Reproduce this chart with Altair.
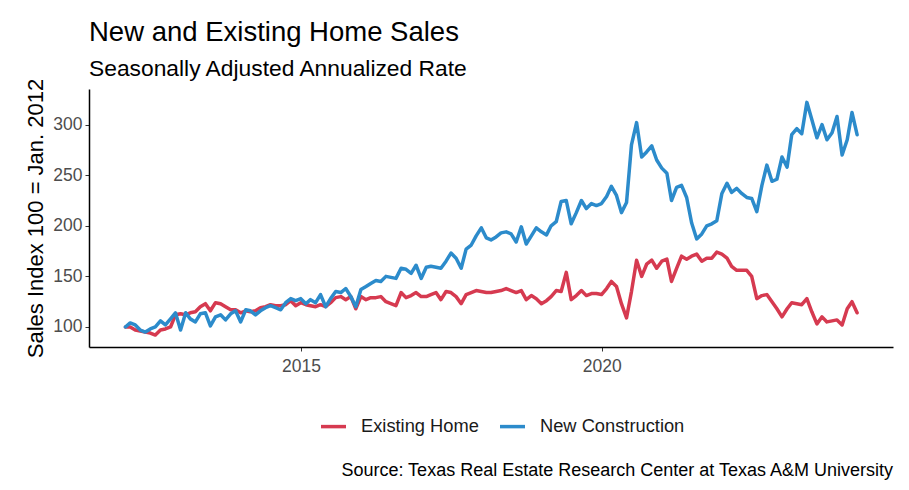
import altair as alt
import pandas as pd

# Monthly index values (100 = Jan. 2012), Jan 2012 .. Mar 2024
existing_home = [
    100, 100, 97, 96, 95, 94, 92, 97, 98, 100, 112, 113,
    112, 114, 115, 120, 123, 116, 124, 123, 120, 117, 117, 114,
    116, 115, 116, 119, 120, 122, 121, 121, 122, 126, 121, 124,
    122, 121, 120, 122, 120, 124, 129, 130, 127, 130, 118, 130,
    127, 129, 129, 130, 125, 123, 121, 134, 129, 131, 134, 130,
    130, 132, 134, 127, 135, 134, 130, 123, 132, 134, 136, 135,
    134, 134, 135, 136, 138, 136, 134, 136, 127, 131, 128, 123,
    126, 130, 136, 135, 154, 127, 131, 136, 131, 133, 133, 132,
    138, 145, 140, 123, 109, 135, 166, 150, 162, 166, 158, 165,
    167, 145, 158, 170, 167, 170, 172, 165, 168, 168, 174, 172,
    168, 160, 156, 156, 156, 150, 128, 131, 132, 125, 118, 110,
    118, 124, 123, 122, 128, 115, 103, 110, 105, 106, 107, 102,
    118, 125, 114,
]
new_construction = [
    100, 104, 102, 97, 95, 98, 100, 106, 102, 108, 114, 97,
    114, 108, 105, 113, 114, 101, 110, 112, 107, 113, 116, 105,
    117, 116, 112, 116, 119, 121, 119, 117, 124, 128, 126, 128,
    123, 127, 124, 132, 120, 128, 135, 134, 138, 130, 120, 137,
    140, 143, 146, 145, 150, 149, 148, 158, 157, 153, 161, 148,
    159, 160, 159, 158, 165, 173, 168, 158, 177, 181, 190, 198,
    188, 186, 189, 193, 194, 192, 184, 199, 182, 190, 198, 194,
    191, 200, 204, 224, 225, 202, 213, 225, 217, 222, 220, 222,
    229, 239, 230, 213, 223, 280, 302, 268, 273, 279, 265, 257,
    252, 225, 238, 240, 228, 203, 187, 192, 200, 202, 205, 232,
    242, 233, 237, 232, 228, 227, 214, 240, 260, 244, 246, 268,
    258, 290, 296, 291, 322, 305, 287, 300, 285, 292, 308, 270,
    285, 312, 290,
]
series_names = ["Existing Home", "New Construction"]
series_colors = ["#D63A50", "#2C8BCB"]
year_ticks = [2015, 2020]
title_text = "New and Existing Home Sales"
subtitle_text = "Seasonally Adjusted Annualized Rate"
y_title = "Sales Index 100 = Jan. 2012"
caption_text = "Source: Texas Real Estate Research Center at Texas A&M University"

n = len(existing_home)
assert n == len(new_construction)
dates = (pd.date_range("2012-02-01", periods=n, freq="MS") - pd.Timedelta(days=1)).strftime("%Y-%m-%d")

df = pd.concat([
    pd.DataFrame({"date": dates, "value": existing_home, "series": series_names[0]}),
    pd.DataFrame({"date": dates, "value": new_construction, "series": series_names[1]}),
])

FONT = "Liberation Sans"
W, H = 804, 258

lines = alt.Chart(df).mark_line(strokeWidth=3.5, strokeJoin="round", strokeCap="round").encode(
    x=alt.X("date:T",
            scale=alt.Scale(domain=["2011-06-24", "2024-11-04"], nice=False),
            axis=alt.Axis(title=None, values=[alt.DateTime(year=y, month=1, date=1) for y in year_ticks],
                          format="%Y", grid=False, tickSize=4, labelPadding=6,
                          labelFontSize=17.5, labelColor="#4D4D4D", domainColor="#000000",
                          domainWidth=1.5, tickColor="#333333")),
    y=alt.Y("value:Q",
            scale=alt.Scale(domain=[80.2, 335.2], nice=False, zero=False),
            axis=alt.Axis(title=y_title, values=[100, 150, 200, 250, 300], grid=False,
                          tickSize=4, labelPadding=3, labelFontSize=17.5, labelColor="#4D4D4D",
                          titleFontSize=22, titleFontWeight="normal", titleColor="#000000",
                          titlePadding=5, domainColor="#000000", domainWidth=1.5,
                          tickColor="#333333")),
    color=alt.Color("series:N",
                    scale=alt.Scale(domain=series_names, range=series_colors),
                    legend=alt.Legend(title=None, orient="none", direction="horizontal",
                                      legendX=230, legendY=323, symbolType="stroke",
                                      symbolSize=625, symbolStrokeWidth=3.5,
                                      labelFontSize=18.3, labelColor="#1A1A1A",
                                      labelOffset=13, columnPadding=14)),
)

caption = alt.Chart(pd.DataFrame({"t": [caption_text]})).mark_text(
    align="right", baseline="alphabetic", fontSize=18, font=FONT, color="#000000"
).encode(x=alt.value(W), y=alt.value(387), text="t:N")

chart = alt.layer(lines, caption).properties(
    width=W, height=H,
    title=alt.TitleParams(text=title_text, subtitle=subtitle_text, anchor="start", frame="group",
                          fontSize=27.5, fontWeight="normal", color="#000000", font=FONT,
                          subtitleFontSize=22.8, subtitleColor="#000000", subtitleFont=FONT,
                          subtitlePadding=12, offset=-3),
    padding={"left": 81, "top": 81, "right": 8, "bottom": 135},
    autosize=alt.AutoSizeParams(type="none"),
).configure(font=FONT).configure_view(stroke=None)

chart.save("out.html", embed_options={"renderer": "svg", "actions": False})
